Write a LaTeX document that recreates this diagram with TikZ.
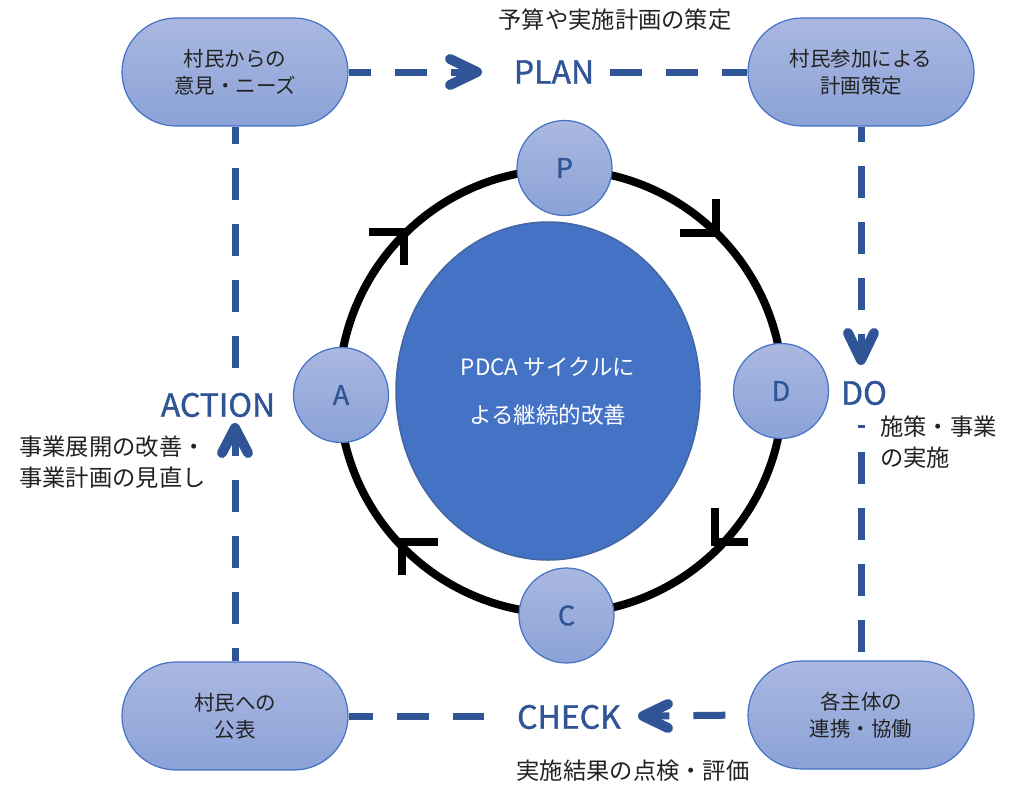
\documentclass[tikz,border=0pt]{standalone}
\usepackage{fontspec}
\setmainfont{Noto Sans CJK JP}
\newfontfamily\stagefont[FakeBold=1.2]{Noto Sans CJK JP}
\newfontfamily\letterfont[FakeBold=0.8]{Noto Sans CJK JP}
\usetikzlibrary{shapes.misc,shapes.geometric,calc}
\definecolor{dblue}{HTML}{2F5597}
\definecolor{mblue}{HTML}{4472C4}
\definecolor{ltop}{HTML}{AAB8E1}
\definecolor{lbot}{HTML}{8BA2D7}
\definecolor{txt}{HTML}{222222}
\begin{document}
\begin{tikzpicture}[x=1pt,y=-1pt,
  stadium/.style={rounded rectangle, minimum width=226pt, minimum height=108pt, inner sep=0pt,
    top color=ltop, bottom color=lbot, draw=mblue, line width=1.2pt, align=center,
    font=\fontsize{20.5}{27}\selectfont, text=txt},
  pdcanode/.style={circle, minimum size=95pt, inner sep=0pt, top color=ltop, bottom color=lbot,
    draw=mblue, line width=1.2pt, font=\letterfont\fontsize{27}{27}\selectfont, text=dblue},
  bigc/.style={ellipse, minimum width=304pt, minimum height=338pt, inner sep=0pt,
    fill=mblue, draw=dblue!90, line width=1.5pt, align=center,
    font=\fontsize{22.5}{48}\selectfont, text=white},
  conn/.style={draw=dblue, line width=7pt, dash pattern=on 32pt off 24pt},
  chev/.style={draw=dblue, line width=10pt, line cap=round, line join=round},
  ringarrow/.style={draw=black, line width=8pt, line cap=butt, line join=miter},
  stagetext/.style={font=\stagefont\fontsize{32}{32}\selectfont, text=dblue, inner sep=0pt},
  notetext/.style={font=\fontsize{23.3}{31}\selectfont, text=txt, inner sep=0pt},
]
\useasboundingbox (0,0) rectangle (1021,785);

% ring
\coordinate (rc) at (561,391.5);
\draw[line width=8pt] (rc) circle[radius=222pt];
\coordinate (ul) at (404,232);
\coordinate (ur) at (716,233);
\coordinate (lr) at (715,542);
\coordinate (ll) at (402,542);
\draw[ringarrow] ($(ul)+(-35,0)$) -- (ul) -- ($(ul)+(0,33)$);
\draw[ringarrow] ($(ur)+(-36,0)$) -- (ur) -- ($(ur)+(0,-34)$);
\draw[ringarrow] ($(lr)+(0,-34)$) -- (lr) -- ($(lr)+(33,0)$);
\draw[ringarrow] ($(ll)+(36,0)$) -- (ll) -- ($(ll)+(0,33)$);

% centre
\node[bigc] (core) at (548,391) {PDCA サイクルに\\よる継続的改善};

% PDCA circles
\node[pdcanode] (p) at (564.5,168) {P};
\node[pdcanode] (a) at (341,395) {A};
\node[pdcanode] (d) at (781,391) {D};
\node[pdcanode] (c) at (566.5,615.5) {C};

% boxes
\node[stadium] (tl) at (235,72) {村民からの\\意見・ニーズ};
\node[stadium] (tr) at (861,72) {村民参加による\\計画策定};
\node[stadium] (bl) at (235,716) {村民への\\公表};
\node[stadium] (br) at (861,715) {各主体の\\連携・協働};

% stage labels
\node[stagetext] (plan) at (554,72) {PLAN};
\node[stagetext] (do) at (864,393) {DO};
\node[stagetext] (action) at (218,405) {ACTION};
\node[stagetext] (check) at (569,717) {CHECK};

% connector ends
\coordinate (plantip) at (477,72);
\coordinate (planout) at (610,72);
\coordinate (dotip) at (861,360);
\coordinate (doout) at (861,425);
\coordinate (checktip) at (643,716);
\coordinate (checkout) at (484,716);
\coordinate (actiontip) at (235,428);
\coordinate (actionout) at (235,370);

% connectors
\draw[conn, dash phase=10pt] (tl.east) -- (plantip);
\draw[conn, dash phase=0pt] (planout) -- (tr.west);
\draw[conn, dash phase=17pt] (tr.south) -- (dotip);
\draw[conn, dash phase=29pt] (doout) -- (br.north);
\draw[conn, dash phase=34pt] (br.west) -- (checktip);
\draw[conn, dash phase=8pt] (bl.east) -- (checkout);
\draw[conn, dash phase=15pt] (tl.south) -- (actionout);
\draw[conn, dash phase=19pt] (bl.north) -- (actiontip);

% arrowheads
\draw[chev] ($(plantip)+(-27,-13)$) -- (plantip) -- ($(plantip)+(-27,13)$);
\draw[chev] ($(dotip)+(-13,-27)$) -- (dotip) -- ($(dotip)+(13,-27)$);
\draw[chev] ($(actiontip)+(-13,25)$) -- (actiontip) -- ($(actiontip)+(13,25)$);
\draw[chev] ($(checktip)+(25,-12)$) -- (checktip) -- ($(checktip)+(25,12)$);

% notes
\node[notetext] (plannote) at (615,20) {予算や実施計画の策定};
\node[notetext, anchor=west, align=left] (donote) at (880,442) {施策・事業\\の実施};
\node[notetext, anchor=west, align=left] (actnote) at (19,462) {事業展開の改善・\\事業計画の見直し};
\node[notetext] (checknote) at (633,771) {実施結果の点検・評価};
\end{tikzpicture}
\end{document}
